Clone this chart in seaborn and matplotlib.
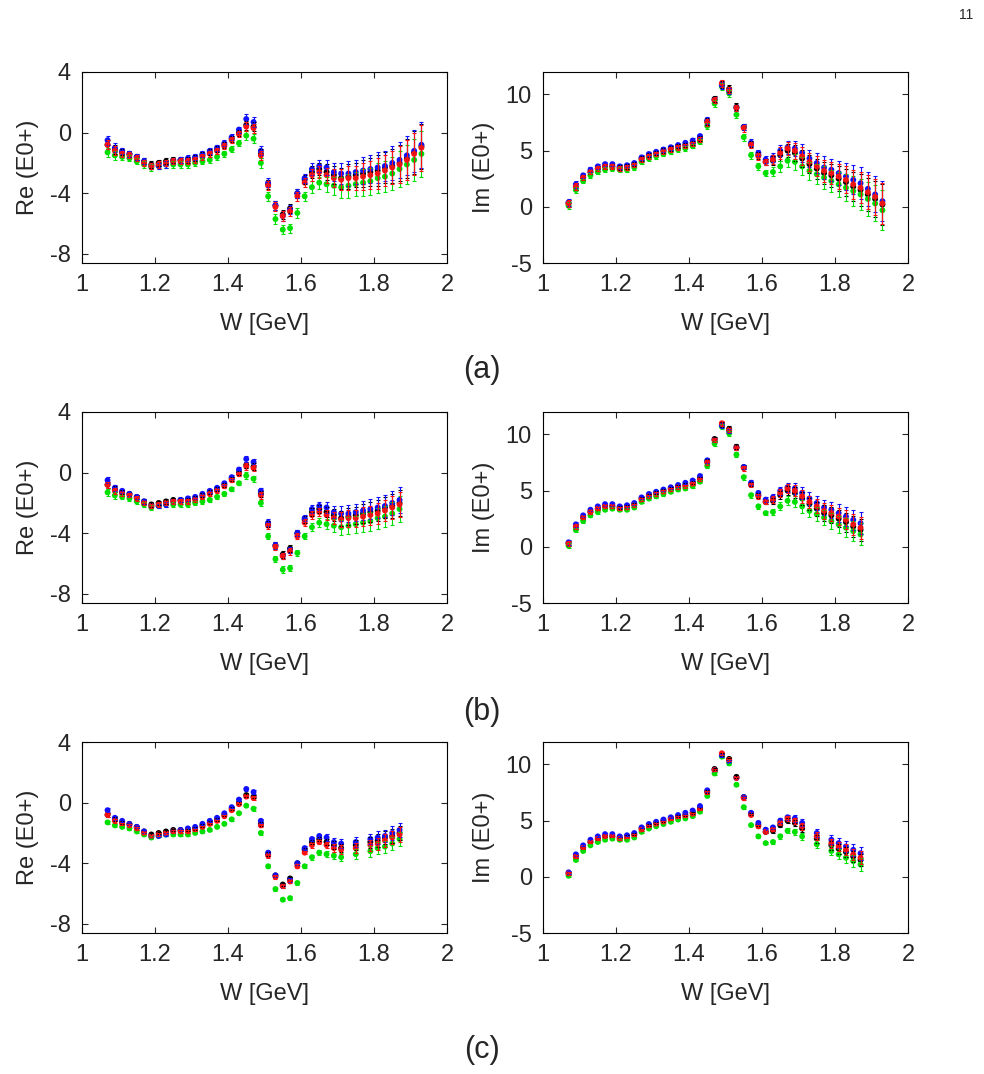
import numpy as np
import pandas as pd
import matplotlib
matplotlib.use("Agg")
import matplotlib.pyplot as plt
import seaborn as sns

sns.set_style("ticks")
plt.rcParams['font.family'] = ['Liberation Sans', 'DejaVu Sans']
plt.rcParams['axes.unicode_minus'] = False

W = [1.07,1.09,1.11,1.13,1.15,1.17,1.19,1.21,1.23,1.25,1.27,1.29,1.31,1.33,1.35,1.37,1.39,1.41,1.43,1.45,1.47,1.49,
     1.51,1.53,1.55,1.57,1.59,1.61,1.63,1.65,1.67,1.69,1.71,1.73,1.75,1.77,1.79,1.81,1.83,1.85,1.87,1.89,1.91,1.93]

re_black = [-0.8,-1.1,-1.3,-1.4,-1.6,-1.9,-2.1,-2.0,-1.9,-1.8,-1.8,-1.8,-1.7,-1.5,-1.3,-1.1,-0.8,-0.4,0.0,0.5,0.4,-1.4,
            -3.4,-4.8,-5.4,-5.0,-4.0,-3.1,-2.6,-2.4,-2.6,-2.8,-3.0,-2.9,-2.8,-2.7,-2.6,-2.5,-2.3,-2.2,-2.0,-1.7,-1.3,-0.9]
re_green = [-1.3,-1.5,-1.6,-1.7,-1.9,-2.1,-2.3,-2.2,-2.1,-2.1,-2.1,-2.1,-2.0,-1.9,-1.8,-1.6,-1.4,-1.1,-0.7,-0.2,-0.4,-2.0,
            -4.2,-5.7,-6.4,-6.3,-5.3,-4.2,-3.6,-3.3,-3.4,-3.5,-3.6,-3.5,-3.4,-3.3,-3.2,-3.0,-2.9,-2.7,-2.4,-2.1,-1.8,-1.4]
re_blue = [-0.5,-1.0,-1.2,-1.4,-1.6,-1.9,-2.2,-2.2,-2.1,-1.9,-1.8,-1.7,-1.6,-1.4,-1.2,-1.0,-0.7,-0.3,0.2,0.9,0.7,-1.2,
           -3.3,-4.8,-5.5,-5.1,-4.0,-3.0,-2.4,-2.2,-2.3,-2.6,-2.7,-2.7,-2.6,-2.5,-2.4,-2.3,-2.2,-2.0,-1.8,-1.5,-1.2,-0.8]
re_red = [-0.8,-1.2,-1.4,-1.5,-1.7,-2.0,-2.2,-2.1,-2.0,-1.9,-1.9,-1.9,-1.8,-1.6,-1.4,-1.2,-0.9,-0.5,-0.1,0.4,0.3,-1.5,
          -3.5,-4.9,-5.5,-5.2,-4.2,-3.3,-2.8,-2.6,-2.8,-3.0,-3.1,-3.0,-3.0,-2.9,-2.8,-2.7,-2.5,-2.3,-2.1,-1.8,-1.4,-1.0]

im_black = [0.3,1.8,2.6,3.1,3.4,3.6,3.6,3.5,3.6,3.8,4.3,4.6,4.8,5.0,5.2,5.4,5.5,5.7,6.1,7.6,9.6,10.9,
            10.5,8.9,7.1,5.6,4.6,4.0,4.1,4.6,5.0,4.8,4.3,3.8,3.4,3.0,2.8,2.5,2.2,1.8,1.5,1.1,0.7,0.2]
im_green = [0.1,1.5,2.3,2.8,3.1,3.3,3.4,3.3,3.3,3.5,4.0,4.3,4.5,4.7,4.9,5.1,5.2,5.4,5.8,7.2,9.2,10.7,
            10.1,8.2,6.2,4.6,3.6,3.0,3.1,3.6,4.1,4.0,3.6,3.2,2.9,2.6,2.3,2.0,1.7,1.4,1.1,0.7,0.3,-0.3]
im_blue = [0.4,2.0,2.8,3.3,3.6,3.8,3.8,3.6,3.7,3.9,4.4,4.7,4.9,5.1,5.3,5.5,5.7,5.9,6.3,7.7,9.5,10.8,
           10.3,8.8,7.1,5.7,4.8,4.2,4.4,5.0,5.3,5.2,4.8,4.3,3.9,3.5,3.3,3.0,2.7,2.4,2.1,1.6,1.1,0.5]
im_red = [0.3,1.8,2.6,3.1,3.4,3.6,3.6,3.4,3.5,3.7,4.2,4.5,4.7,4.9,5.1,5.3,5.4,5.6,6.0,7.5,9.5,11.0,
          10.4,8.8,7.0,5.5,4.5,4.0,4.2,4.8,5.2,5.0,4.5,4.0,3.6,3.2,3.0,2.7,2.4,2.0,1.7,1.3,0.9,0.3]

err_re = [0.3,0.3,0.2,0.2,0.2,0.2,0.2,0.2,0.2,0.2,0.2,0.2,0.2,0.2,0.2,0.2,0.2,0.2,0.2,0.3,0.3,0.3,
          0.3,0.3,0.3,0.3,0.3,0.3,0.4,0.4,0.5,0.6,0.7,0.8,0.8,0.9,0.9,1.0,1.0,1.1,1.2,1.3,1.4,1.5]
err_im = [0.3,0.3,0.2,0.2,0.2,0.2,0.2,0.2,0.2,0.2,0.2,0.2,0.2,0.2,0.2,0.2,0.2,0.2,0.2,0.3,0.3,0.3,
          0.3,0.3,0.3,0.3,0.3,0.3,0.4,0.5,0.6,0.7,0.8,0.8,0.9,1.0,1.0,1.1,1.2,1.3,1.4,1.5,1.6,1.8]
err_scale_panel = [1.0, 0.7, 0.4]

n_b = 41
idx_c = list(range(0, 33)) + [34, 36, 37, 38, 39, 40]

colors = {"black": "#000000", "green": "#00e000", "blue": "#1010ff", "red": "#ff1010"}
re_series = {"black": re_black, "green": re_green, "blue": re_blue, "red": re_red}
im_series = {"black": im_black, "green": im_green, "blue": im_blue, "red": im_red}

fig = plt.figure(figsize=(9.84, 10.74), dpi=100)
FW, FH = 984, 1074
rows = [(72, 263), (412, 603), (742, 933)]
cols = [(82, 447), (543, 908)]
labels = ["(a)", "(b)", "(c)"]
label_y = [370, 712, 1050]

for r, (yt, yb) in enumerate(rows):
    if r == 0:
        idx = list(range(len(W)))
    elif r == 1:
        idx = list(range(n_b))
    else:
        idx = idx_c
    for c, (xl, xr) in enumerate(cols):
        ax = fig.add_axes([xl / FW, 1 - yb / FH, (xr - xl) / FW, (yb - yt) / FH])
        series = re_series if c == 0 else im_series
        err = err_re if c == 0 else err_im
        for name in ["black", "green", "blue", "red"]:
            df = pd.DataFrame({"W": [W[i] for i in idx],
                               "v": [series[name][i] for i in idx],
                               "e": [err[i] * err_scale_panel[r] for i in idx]})
            ax.errorbar(df["W"], df["v"], yerr=df["e"], fmt="none", ecolor=colors[name],
                        elinewidth=0.8, capsize=1.5, capthick=0.8)
            sns.scatterplot(data=df, x="W", y="v", color=colors[name], s=18, edgecolor="none",
                            ax=ax, legend=False)
        ax.set_xlim(1, 2)
        ax.set_xticks([1, 1.2, 1.4, 1.6, 1.8, 2])
        ax.set_xticklabels(["1", "1.2", "1.4", "1.6", "1.8", "2"])
        if c == 0:
            ax.set_ylim(-8.6, 4)
            ax.set_yticks([-8, -4, 0, 4])
            ax.set_ylabel("Re (E0+)", fontsize=17, labelpad=8)
        else:
            ax.set_ylim(-5, 12)
            ax.set_yticks([-5, 0, 5, 10])
            ax.set_ylabel("Im (E0+)", fontsize=17, labelpad=8)
        ax.set_xlabel("W [GeV]", fontsize=17, labelpad=12)
        ax.tick_params(direction="in", top=True, right=True, labelsize=17, length=4, pad=8)
        for s in ax.spines.values():
            s.set_linewidth(0.8)
            s.set_color("black")
    fig.text(482 / FW, 1 - label_y[r] / FH, labels[r], fontsize=22, ha="center", va="center")

fig.text(966 / FW, 1 - 15 / FH, "11", fontsize=10, ha="center", va="center")
fig.savefig("out.png", dpi=100)
